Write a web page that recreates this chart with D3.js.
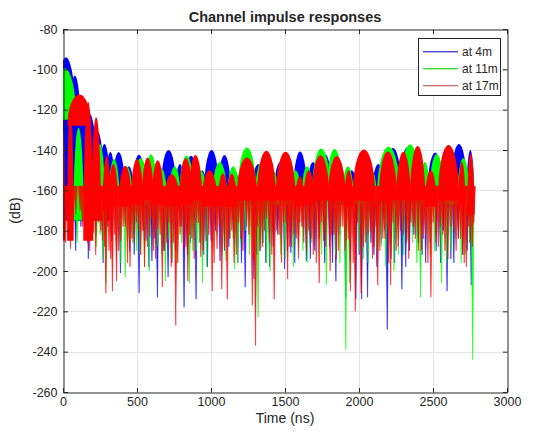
<!DOCTYPE html>
<html><head><meta charset="utf-8">
<script src="https://cdn.jsdelivr.net/npm/d3@7"></script>
<style>
body{margin:0;background:#fff}
svg{display:block}
text{font-family:"Liberation Sans",Arial,Helvetica,sans-serif;fill:#262626}
</style>
</head><body>
<svg id="chart" width="540" height="439"></svg>
<script>
// ---------------- data ----------------
const xTicks=[0,500,1000,1500,2000,2500,3000];
const yTicks=[-260,-240,-220,-200,-180,-160,-140,-120,-100,-80];
const seriesNames=["at 4m","at 11m","at 17m"];
const seriesColors=["#0000ff","#00ff00","#ff0000"];
const legendColors=["#4646d2","#3cdc3c","#cd7373"];
// lobes of each impulse response envelope: [centre time ns, half width ns, peak dB, floor dB]
const lobes4m=[[20,100,-94,-175],[80,60,-103,-175],[130,60,-113,-175],[180,60,-122,-175],[230,55,-130,-175],[280,45,-137,-175],[320,35,-141,-168],
[376,45,-141,-165],[445,35,-148,-165],[513,48,-142.3,-167],[600,45,-146,-165],[713,55,-140,-165],[790,35,-147,-167],[865,50,-142.8,-165],[940,35,-150,-167],[1004,55,-140,-167],[1091,45,-142.5,-165],[1160,35,-150,-167],[1235,50,-146,-165],[1320,50,-147,-167],[1400,35,-150,-167],[1468,45,-146,-165],[1540,35,-152,-167],[1602,50,-140.8,-167],[1690,45,-146,-167],[1770,50,-142,-165],[1860,50,-145,-167],[1950,45,-150,-168],[2040,55,-143,-165],[2130,45,-147,-167],[2230,60,-139,-165],[2330,62,-138.5,-165],[2430,40,-147,-167],[2515,55,-141.3,-165],[2590,35,-148,-168],[2675,60,-137,-167],[2752,28,-140,-170]];
const lobes11m=[[10,80,-99.5,-125],[105,35,-129,-175],[175,25,-131,-175],[250,35,-137,-172],
[345,38,-144.5,-167],[430,42,-148,-167],[525,50,-144,-167],[595,40,-142,-165],[665,38,-149,-167],[755,40,-148,-167],[835,50,-142.8,-165],[930,42,-150,-167],[990,30,-152,-167],[1059,50,-146,-165],[1150,42,-148,-167],[1243,65,-138.7,-165],[1340,45,-146,-167],[1420,35,-150,-167],[1490,45,-146,-167],[1570,40,-150,-167],[1650,40,-148,-167],[1745,65,-139.3,-165],[1835,55,-139.5,-165],[1925,40,-148,-167],[2005,48,-145,-167],[2085,38,-150,-167],[2200,80,-138.3,-165],[2345,70,-137.3,-165],[2445,35,-146,-167],[2525,50,-142,-165],[2620,48,-141,-167],[2705,42,-144,-167],[2760,20,-145,-172]];
const lobes17m=[[0,15,-131,-185],[50,22,-118,-185],[110,80,-112.5,-128],[170,33,-116,-185],[224,33,-123.7,-175],[295,28,-143,-170],
[340,32,-147,-168],[420,45,-147.8,-168],[500,42,-144.5,-167],[572,40,-143.7,-165],[640,40,-145,-167],[735,55,-152,-168],[830,45,-144,-167],[895,45,-142.5,-165],[990,55,-150,-168],[1080,35,-151.7,-168],[1140,35,-151.7,-168],[1243,70,-143.7,-165],[1374,65,-140.3,-165],[1504,68,-140.8,-165],[1600,32,-153,-168],[1660,35,-150,-167],[1740,60,-142.5,-165],[1850,60,-143,-165],[1930,30,-150,-168],[2033,78,-139.7,-165],[2195,62,-140.8,-165],[2300,50,-140.8,-165],[2396,52,-138,-165],[2485,40,-150,-168],[2605,72,-137.5,-165],[2695,25,-146,-168],[2755,25,-141.7,-172]];
// deep nulls of each response: [time ns, dB]
const nulls4m=[[60,-160],[100,-165],[143,-176],[200,-170],[246,-174],[330,-185],[387,-201],[450,-190],[513,-211],[560,-185],[600,-195],[637,-213],[709,-203],[760,-190],[817,-218],[860,-186],[898,-214],[950,-192],[1000,-185],[1060,-195],[1120,-188],[1180,-196],[1230,-208],[1289,-204],[1330,-190],[1370,-196],[1420,-188],[1496,-199],[1539,-191],[1590,-186],[1643,-195],[1700,-190],[1767,-196],[1800,-188],[1843,-205],[1909,-213],[1940,-195],[1978,-214],[2017,-214],[2057,-213],[2100,-192],[2150,-186],[2190,-229],[2240,-196],[2289,-209],[2340,-190],[2400,-186],[2450,-196],[2520,-190],[2594,-210],[2640,-196],[2700,-192],[2757,-207]];
const nulls11m=[[20,-165],[75,-168],[110,-160],[160,-178],[202,-185],[250,-182],[289,-206],[360,-190],[420,-203],[470,-186],[520,-192],[583,-200],[640,-188],[691,-205],[740,-194],[800,-186],[854,-206],[900,-190],[941,-206],[1010,-188],[1100,-195],[1159,-199],[1200,-186],[1260,-192],[1317,-223],[1350,-188],[1398,-200],[1470,-192],[1557,-198],[1620,-190],[1680,-186],[1778,-207],[1840,-192],[1910,-239],[1935,-206],[2000,-190],[2060,-196],[2150,-188],[2235,-200],[2300,-192],[2360,-186],[2415,-213],[2480,-192],[2557,-206],[2620,-190],[2690,-196],[2767,-244]];
const nulls17m=[[5,-170],[17,-186],[35,-178],[50,-189],[150,-172],[180,-190],[205,-181],[240,-176],[265,-185],[289,-211],[310,-190],[333,-210],[361,-205],[390,-185],[420,-178],[452,-198],[480,-186],[510,-180],[550,-198],[585,-183],[610,-190],[640,-179],[670,-208],[700,-186],[730,-198],[761,-227],[790,-182],[815,-190],[843,-205],[870,-184],[900,-176],[930,-193],[965,-185],[1007,-210],[1040,-189],[1072,-209],[1109,-214],[1140,-180],[1170,-192],[1200,-184],[1240,-178],[1278,-217],[1300,-237],[1330,-190],[1360,-180],[1395,-186],[1426,-214],[1460,-182],[1490,-176],[1517,-204],[1545,-188],[1575,-184],[1600,-176],[1626,-186],[1660,-180],[1690,-192],[1730,-206],[1760,-185],[1804,-200],[1830,-182],[1860,-190],[1890,-178],[1915,-185],[1941,-210],[1974,-220],[2013,-211],[2045,-186],[2075,-180],[2100,-188],[2126,-207],[2160,-184],[2190,-178],[2213,-207],[2250,-190],[2280,-180],[2320,-186],[2350,-176],[2380,-184],[2420,-190],[2450,-182],[2485,-213],[2520,-186],[2550,-178],[2580,-190],[2640,-180],[2670,-184],[2700,-192],[2724,-198],[2750,-186],[2775,-176]];
// shallow nulls just under the solid body: [time ns, dB]
const teeth4m=[[20,-172],[40,-184],[85,-190],[120,-178],[170,-194],[225,-182],[270,-196],[300,-178],[360,-188],[415,-176],[480,-192],[540,-180],[580,-198],[620,-184],[680,-190],[735,-196],[790,-178],[840,-192],[925,-186],[975,-198],[1030,-180],[1090,-190],[1150,-184],[1205,-196],[1260,-178],[1310,-192],[1350,-186],[1395,-198],[1450,-182],[1515,-190],[1565,-196],[1615,-178],[1670,-194],[1730,-184],[1820,-196],[1870,-182],[2000,-192],[2080,-186],[2120,-198],[2170,-180],[2215,-194],[2265,-184],[2315,-198],[2370,-182],[2425,-192],[2480,-186],[2550,-196],[2570,-180],[2620,-194],[2670,-184],[2730,-190]];
const teeth11m=[[45,-175],[95,-186],[135,-172],[185,-180],[225,-188],[270,-194],[320,-182],[390,-196],[445,-184],[495,-190],[550,-198],[610,-180],[665,-192],[715,-184],[770,-196],[830,-180],[875,-190],[920,-186],[970,-198],[1040,-182],[1075,-192],[1130,-184],[1180,-196],[1230,-180],[1285,-190],[1330,-186],[1375,-196],[1430,-182],[1500,-194],[1530,-178],[1590,-190],[1650,-196],[1710,-184],[1745,-192],[1810,-180],[1870,-196],[1965,-186],[2030,-194],[2090,-182],[2120,-190],[2180,-198],[2210,-180],[2265,-192],[2330,-184],[2390,-196],[2450,-182],[2510,-190],[2590,-196],[2650,-184],[2720,-192],[2745,-186]];
const teeth17m=[[25,-175],[65,-180],[85,-172],[115,-170],[130,-178],[165,-186],[195,-176],[220,-192],[255,-180],[280,-188],[300,-176],[322,-194],[348,-182],[375,-190],[405,-178],[435,-196],[465,-184],[495,-176],[525,-192],[540,-180],[570,-188],[600,-174],[625,-194],[655,-182],[685,-190],[715,-176],[745,-186],[775,-196],[800,-178],[830,-188],[855,-182],[885,-194],[915,-176],[945,-190],[985,-182],[1020,-196],[1055,-178],[1090,-188],[1125,-184],[1155,-196],[1185,-176],[1215,-190],[1255,-182],[1290,-194],[1315,-178],[1345,-188],[1375,-174],[1410,-192],[1440,-180],[1475,-196],[1505,-176],[1530,-188],[1560,-182],[1590,-194],[1615,-178],[1645,-190],[1675,-184],[1710,-196],[1745,-176],[1775,-188],[1815,-182],[1845,-194],[1875,-178],[1905,-190],[1930,-184],[1960,-196],[1990,-176],[2030,-188],[2060,-182],[2090,-194],[2115,-178],[2140,-190],[2175,-184],[2200,-196],[2230,-176],[2265,-188],[2300,-182],[2335,-194],[2365,-178],[2400,-190],[2435,-184],[2465,-196],[2500,-176],[2535,-188],[2565,-182],[2600,-194],[2620,-178],[2655,-190],[2685,-184],[2710,-196],[2740,-178],[2765,-188]];

// ---------------- layout ----------------
const L=63,R=507,T=29,B=392;
const ink="#262626";
const svg=d3.select("#chart");
const x=d3.scaleLinear().domain([0,3000]).range([L,R]);
const y=d3.scaleLinear().domain([-260,-80]).range([B,T]);

svg.append("rect").attr("x",0).attr("y",0).attr("width",540).attr("height",439).attr("fill","#fff");

// grid
const grid=svg.append("g").attr("stroke","#e3e3e3").attr("stroke-width",1);
grid.selectAll("line.gx").data(xTicks.slice(1,-1)).join("line").attr("class","gx")
  .attr("x1",d=>Math.round(x(d))+0.5).attr("x2",d=>Math.round(x(d))+0.5).attr("y1",T).attr("y2",B);
grid.selectAll("line.gy").data(yTicks.slice(1,-1)).join("line").attr("class","gy")
  .attr("y1",d=>Math.round(y(d))+0.5).attr("y2",d=>Math.round(y(d))+0.5).attr("x1",L).attr("x2",R);

// clip
svg.append("clipPath").attr("id","plotclip").append("rect")
  .attr("x",L).attr("y",T).attr("width",R-L).attr("height",B-T);

const series=seriesNames.map((n,i)=>({name:n,color:seriesColors[i],
  lobes:[lobes4m,lobes11m,lobes17m][i],
  nulls:[nulls4m,nulls11m,nulls17m][i].concat([teeth4m,teeth11m,teeth17m][i])}));

function dome(l){
  const [c,hw,pk,base]=l;
  const x0=x(c-hw),x1=x(c+hw),yb=y(base),yp=y(pk);
  const rx=(x1-x0)/2,ry=yb-yp;
  return `M${x0},${yb}A${rx},${ry} 0 0 1 ${x1},${yb}Z`;
}
function nullPath(d){
  const xc=x(d[0]),y0=y(-158),y1=y(d[1]);
  return `M${xc-1.7},${y0}L${xc+0.15},${y1}L${xc+1.7},${y0}Z`;
}
const plot=svg.append("g").attr("clip-path","url(#plotclip)");
series.forEach(s=>{
  const g=plot.append("g");
  g.selectAll("path.null").data(s.nulls).join("path").attr("class","null")
    .attr("d",nullPath).attr("fill",s.color).attr("fill-opacity",0.85)
    .attr("stroke",s.color).attr("stroke-width",0.6).attr("stroke-opacity",0.85);
  g.selectAll("path.lobe").data(s.lobes).join("path").attr("class","lobe")
    .attr("d",dome).attr("fill",s.color);
});

// axes
const fmt=d=>String(d);
function styleAxis(g){
  g.selectAll("path.domain").attr("stroke",ink).attr("stroke-width",1);
  g.selectAll(".tick line").attr("stroke",ink).attr("stroke-width",1);
  g.selectAll(".tick text").attr("font-size","12.5px").attr("fill",ink)
    .attr("font-family","'Liberation Sans',Arial,Helvetica,sans-serif");
}
svg.append("g").attr("transform",`translate(0,${B+0.5})`)
  .call(d3.axisBottom(x).tickValues(xTicks).tickFormat(fmt).tickSize(-4.5).tickSizeOuter(0).tickPadding(5))
  .call(styleAxis);
svg.append("g").attr("transform",`translate(0,${T+0.5})`)
  .call(d3.axisTop(x).tickValues(xTicks).tickFormat("").tickSize(-4.5).tickSizeOuter(0))
  .call(styleAxis);
svg.append("g").attr("transform",`translate(${L+0.5},0)`)
  .call(d3.axisLeft(y).tickValues(yTicks).tickFormat(fmt).tickSize(-4.5).tickSizeOuter(0).tickPadding(6))
  .call(styleAxis);
svg.append("g").attr("transform",`translate(${R+0.5},0)`)
  .call(d3.axisRight(y).tickValues(yTicks).tickFormat("").tickSize(-4.5).tickSizeOuter(0))
  .call(styleAxis);

// titles
svg.append("text").attr("x",(L+R)/2).attr("y",22).attr("text-anchor","middle")
  .attr("font-size","14.5px").attr("font-weight","bold").attr("fill","#000").text("Channel impulse responses");
svg.append("text").attr("x",(L+R)/2).attr("y",423).attr("text-anchor","middle")
  .attr("font-size","14px").text("Time (ns)");
svg.append("text").attr("transform",`translate(20,${(T+B)/2}) rotate(-90)`).attr("text-anchor","middle")
  .attr("font-size","14px").text("(dB)");

// legend
const lg=svg.append("g");
lg.append("rect").attr("x",418.5).attr("y",38.5).attr("width",82).attr("height",57)
  .attr("fill","#fff").attr("stroke",ink).attr("stroke-width",1);
seriesNames.forEach((n,i)=>{
  const yy=51+i*17;
  lg.append("rect").attr("x",423).attr("y",yy).attr("width",35).attr("height",1.4)
    .attr("fill",legendColors[i]);
  lg.append("text").attr("x",462).attr("y",yy+4.5).attr("font-size","12px").text(n);
});
</script>
</body></html>
